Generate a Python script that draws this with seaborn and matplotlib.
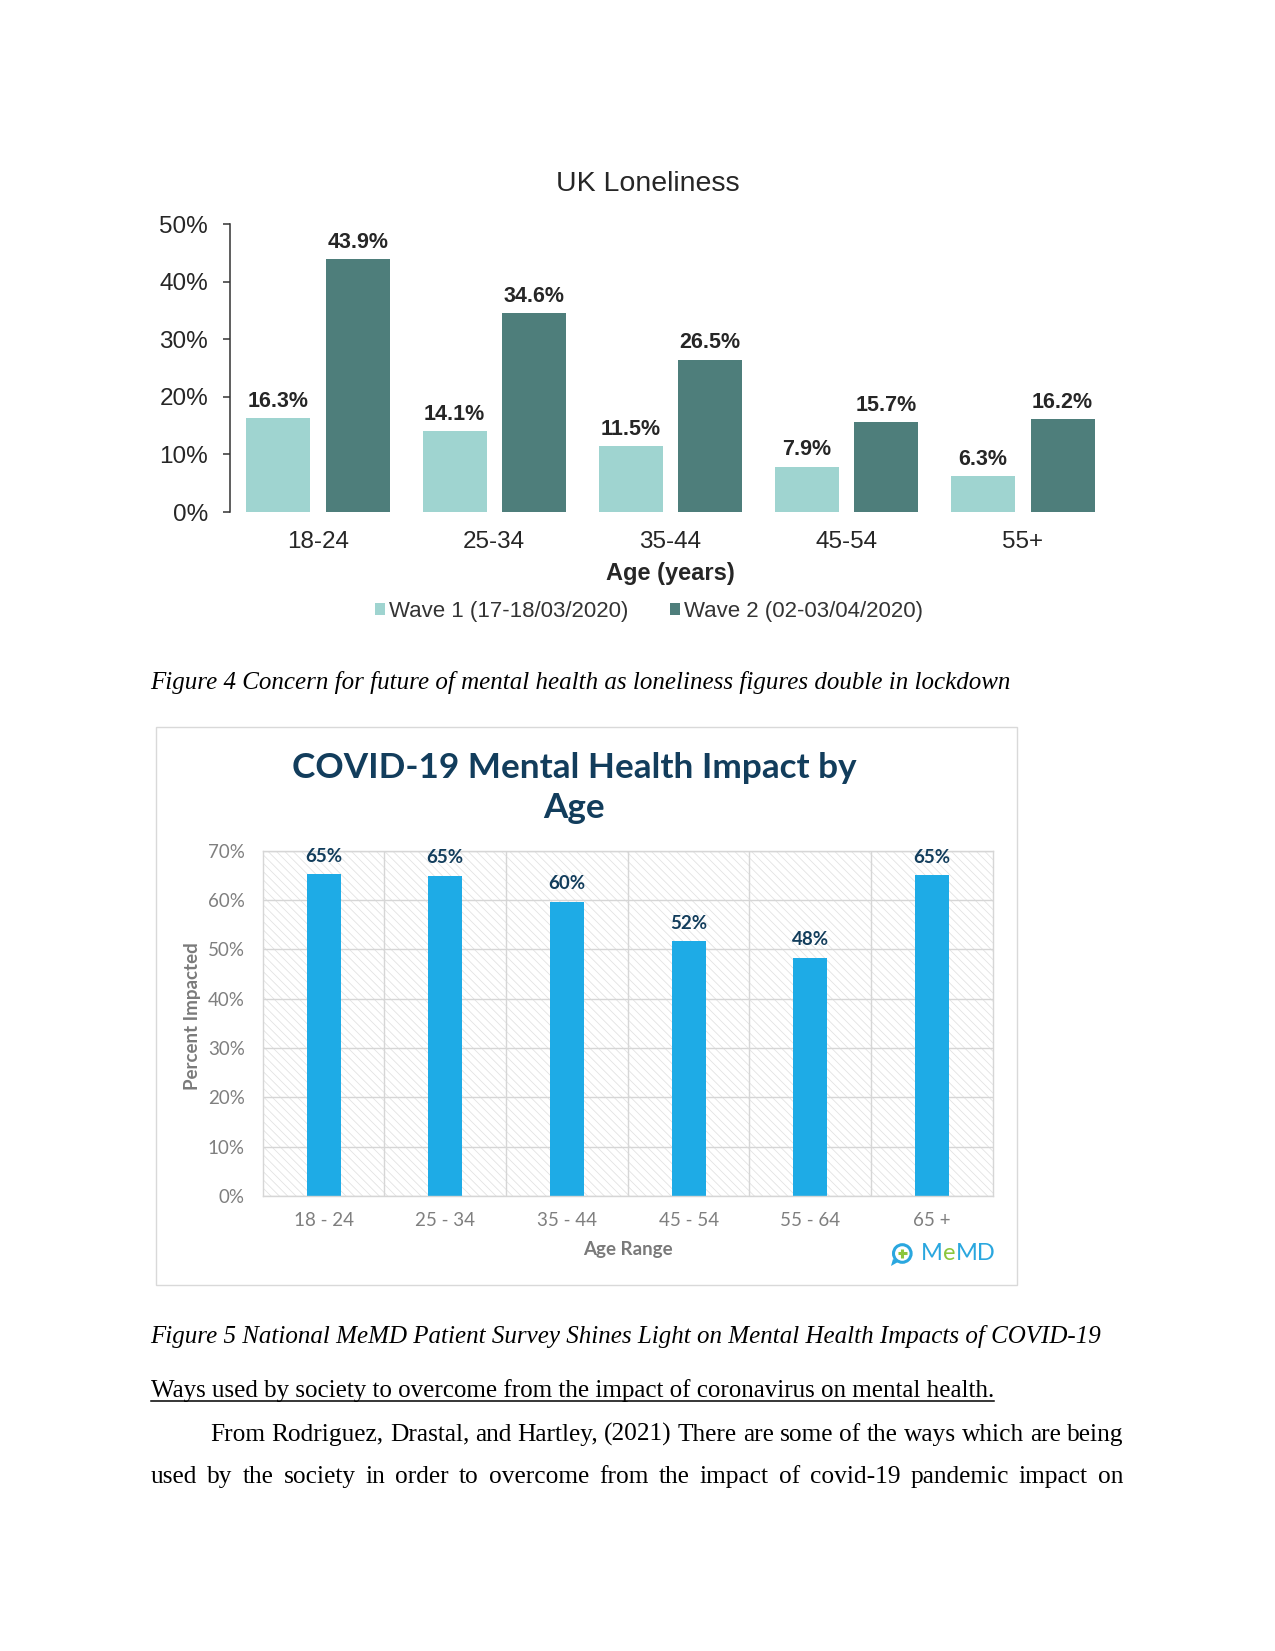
import matplotlib
matplotlib.use("Agg")
import matplotlib.pyplot as plt
import seaborn as sns
import pandas as pd
from matplotlib.patches import Rectangle, Circle, Patch, Polygon
from matplotlib.ticker import PercentFormatter

W, H = 1275, 1651

# ---------------- data: chart 1 (UK Loneliness) ----------------
ages_uk = ["18-24", "25-34", "35-44", "45-54", "55+"]
wave1_vals = [16.3, 14.1, 11.5, 7.9, 6.3]
wave2_vals = [43.9, 34.6, 26.5, 15.7, 16.2]
wave_names = ["Wave 1 (17-18/03/2020)", "Wave 2 (02-03/04/2020)"]
uk_yticks = [0, 10, 20, 30, 40, 50]

# ---------------- data: chart 2 (MeMD) ----------------
ages_memd = ["18 - 24", "25 - 34", "35 - 44", "45 - 54", "55 - 64", "65 +"]
impact_vals = [65.2, 64.9, 59.6, 51.6, 48.3, 65.0]
memd_yticks = [0, 10, 20, 30, 40, 50, 60, 70]

# ---------------- page text ----------------
caption4 = "Figure 4 Concern for future of mental health as loneliness figures double in lockdown"
caption5 = "Figure 5 National MeMD Patient Survey Shines Light on Mental Health Impacts of COVID-19"
heading = "Ways used by society to overcome from the impact of coronavirus on mental health."
para_lines = [
    "From Rodriguez, Drastal, and Hartley, (2021) There are some of the ways which are being",
    "used by the society in order to overcome from the impact of covid-19 pandemic impact on",
]

plt.rcParams["font.family"] = ["Liberation Sans", "DejaVu Sans"]
plt.rcParams["hatch.linewidth"] = 0.6
plt.rcParams["hatch.color"] = "#e3e3e3"

fig = plt.figure(figsize=(W / 100, H / 100), dpi=100)
fig.patch.set_facecolor("white")


def rect(l, t, r, b):
    return [l / W, 1 - b / H, (r - l) / W, (b - t) / H]


# overlay axes in pixel coordinates for page decorations
ov = fig.add_axes([0, 0, 1, 1], zorder=-5)
ov.set_xlim(0, W)
ov.set_ylim(H, 0)
ov.axis("off")

# ================= Chart 1 =================
light, dark = "#9fd4d0", "#4e7e7b"
ink = "#262626"
ax1 = fig.add_axes(rect(230, 224.3, 1111, 512))
df1 = pd.DataFrame({
    "age": ages_uk * 2,
    "pct": wave1_vals + wave2_vals,
    "wave": [wave_names[0]] * len(ages_uk) + [wave_names[1]] * len(ages_uk),
})
sns.barplot(data=df1, x="age", y="pct", hue="wave", palette=[light, dark],
            width=0.902, gap=0.193, errorbar=None, linewidth=0, saturation=1,
            ax=ax1, legend=False)
ax1.set_xlim(-0.5, 4.5)
ax1.set_ylim(0, 50)
ax1.set_xlabel("")
ax1.set_ylabel("")
for s in ["top", "right", "bottom"]:
    ax1.spines[s].set_visible(False)
ax1.spines["left"].set_color("#333333")
ax1.spines["left"].set_linewidth(1.1)
ax1.set_yticks(uk_yticks)
ax1.yaxis.set_major_formatter(PercentFormatter(100, decimals=0))
ax1.tick_params(axis="y", length=5.3, width=1.1, color="#333333", pad=10.5,
                labelsize=17.5, labelcolor=ink)
ax1.tick_params(axis="x", length=0, pad=13.5, labelsize=17.5, labelcolor=ink)
for cont, vals in zip(ax1.containers, [wave1_vals, wave2_vals]):
    ax1.bar_label(cont, labels=[f"{v:.1f}%" for v in vals], padding=4.4,
                  fontsize=15.5, fontweight="bold", color=ink)

handles = [Patch(facecolor=light, label=wave_names[0]),
           Patch(facecolor=dark, label=wave_names[1])]
leg = fig.legend(handles=handles, loc="center", bbox_to_anchor=(649 / W, 1 - 611.6 / H),
                 ncol=2, frameon=False, fontsize=16, handlelength=0.45, handleheight=0.45,
                 handletextpad=0.15, columnspacing=1.9, borderaxespad=0, borderpad=0)
for t in leg.get_texts():
    t.set_color("#333333")

ov.text(647.5, 184, "UK Loneliness", ha="center", va="center", fontsize=20.5, color=ink)
ov.text(670.6, 573.7, "Age (years)", ha="center", va="center", fontsize=17,
        fontweight="bold", color=ink)

# ================= Chart 2 =================
blue = "#1eabe6"
navy = "#123d5c"
gray = "#7f7f7f"
ov.add_patch(Rectangle((155.8, 727.5), 861.2, 558, fill=False, edgecolor="#d9d9d9", lw=1))

ax2 = fig.add_axes(rect(262.7, 850.7, 992.8, 1196))
df2 = pd.DataFrame({"age": ages_memd, "pct": impact_vals})
sns.barplot(data=df2, x="age", y="pct", color=blue, width=0.28, errorbar=None,
            linewidth=0, saturation=1, ax=ax2)
ax2.add_patch(Rectangle((0, 0), 1, 1, transform=ax2.transAxes, facecolor="white",
                        edgecolor="#e3e3e3", hatch="\\\\\\\\", linewidth=0, zorder=0.1))
ax2.set_xlim(-0.5, 5.5)
ax2.set_ylim(0, 70)
ax2.set_xlabel("")
ax2.set_ylabel("")
ax2.set_yticks(memd_yticks)
ax2.yaxis.set_major_formatter(PercentFormatter(100, decimals=0))
ax2.set_xticks([0.5, 1.5, 2.5, 3.5, 4.5], minor=True)
ax2.set_axisbelow(True)
ax2.yaxis.grid(True, color="#d6d6d6", lw=1)
ax2.xaxis.grid(True, which="minor", color="#d6d6d6", lw=1)
for s in ax2.spines.values():
    s.set_color("#d6d6d6")
    s.set_linewidth(1)
ax2.tick_params(axis="both", which="both", length=0)
ax2.tick_params(axis="y", pad=13, labelsize=13.5, labelcolor=gray)
ax2.tick_params(axis="x", pad=11.8, labelsize=13.5, labelcolor=gray)
for lbl in ax2.get_xticklabels() + ax2.get_yticklabels():
    lbl.set_fontfamily("Lato")
ax2.bar_label(ax2.containers[0], labels=[f"{v:.0f}%" for v in impact_vals], padding=7,
              fontsize=13.5, fontweight="bold", color=navy, fontfamily="Lato")

ov.text(573.8, 778, "COVID-19 Mental Health Impact by", ha="center", va="baseline",
        fontsize=25.3, fontweight="bold", family="Lato", color=navy)
ov.text(573.8, 818, "Age", ha="center", va="baseline",
        fontsize=25.3, fontweight="bold", family="Lato", color=navy)
ov.text(192.7, 1016, "Percent Impacted", ha="center", va="center", rotation=90,
        fontsize=13.5, fontweight="bold", family="Lato", color="#7a7a7a")
ov.text(627.5, 1249.6, "Age Range", ha="center", va="center",
        fontsize=13.5, fontweight="bold", family="Lato", color="#7a7a7a")

# MeMD logo
logo_blue, logo_green = "#2aa7df", "#8cc63e"
ov.add_patch(Polygon([[893, 1259], [891, 1266], [898, 1262]], closed=True,
                     facecolor=logo_blue, edgecolor="none"))
ov.add_patch(Circle((902.3, 1253.5), 8.8, fill=False, edgecolor=logo_blue, lw=2.2))
ov.plot([898, 906.6], [1253.5, 1253.5], color=logo_green, lw=2.2, solid_capstyle="butt")
ov.plot([902.3, 902.3], [1249.2, 1257.8], color=logo_green, lw=2.2, solid_capstyle="butt")

rend = fig.canvas.get_renderer()


def width_of(t):
    return t.get_window_extent(rend).width


x = 921
for part, col in [("M", logo_blue), ("e", logo_green), ("MD", logo_blue)]:
    t = ov.text(x, 1260, part, ha="left", va="baseline", fontsize=17,
                family="Lato", color=col)
    x += width_of(t)

# ================= page text =================
serif = ["Liberation Serif", "DejaVu Serif"]


def fit(x0, y, s, target_w, size, **kw):
    t = ov.text(x0, y, s, fontsize=size, va="baseline", ha="left", family=serif, **kw)
    w = width_of(t)
    t.set_fontsize(size * target_w / w)
    return t


fit(150.6, 689, caption4, 860, 17.5, style="italic", color="black")
fit(150.6, 1342.7, caption5, 949.6, 17.5, style="italic", color="black")
th = fit(150.6, 1397.3, heading, 843, 17.5, color="black")
hw = width_of(th)
ov.plot([150.6, 150.6 + hw], [1401, 1401], color="black", lw=1.1)


def justify(line, x0, x1, y, size):
    words = line.split()
    ts = [ov.text(0, y, w, va="baseline", ha="left", fontsize=size, family=serif,
                  color="black") for w in words]
    ws = [width_of(t) for t in ts]
    gap = (x1 - x0 - sum(ws)) / (len(words) - 1)
    xx = x0
    for t, w in zip(ts, ws):
        t.set_x(xx)
        xx += w + gap


justify(para_lines[0], 210.6, 1123.3, 1440.7, 18.3)
justify(para_lines[1], 150.6, 1123.3, 1483.3, 18.3)

fig.savefig("out.png", dpi=100, facecolor="white")
